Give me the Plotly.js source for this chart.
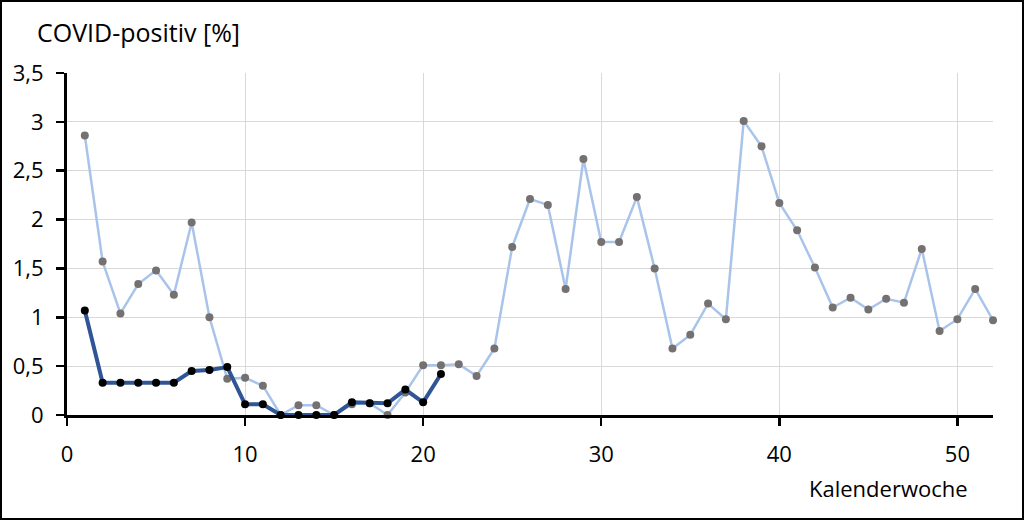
<!DOCTYPE html>
<html>
<head>
<meta charset="utf-8">
<script src="https://cdn.plot.ly/plotly-3.0.1.min.js"></script>
<style>
html,body{margin:0;padding:0;background:#fff;}
#wrap{width:1024px;height:520px;box-sizing:border-box;border:2px solid #000;overflow:hidden;}
#chart{width:1020px;height:516px;}
</style>
</head>
<body>
<div id="wrap"><div id="chart"></div></div>
<script>
const weeksAll = [1,2,3,4,5,6,7,8,9,10,11,12,13,14,15,16,17,18,19,20,21,22,23,24,25,26,27,28,29,30,31,32,33,34,35,36,37,38,39,40,41,42,43,44,45,46,47,48,49,50,51,52];
const positivAll = [2.86,1.57,1.04,1.34,1.48,1.23,1.97,1.00,0.37,0.38,0.30,0.00,0.10,0.10,0.00,0.11,0.12,0.00,0.23,0.51,0.51,0.52,0.40,0.68,1.72,2.21,2.15,1.29,2.62,1.77,1.77,2.23,1.50,0.68,0.82,1.14,0.98,3.01,2.75,2.17,1.89,1.51,1.10,1.20,1.08,1.19,1.15,1.70,0.86,0.98,1.29,0.97];
const weeksCur = [1,2,3,4,5,6,7,8,9,10,11,12,13,14,15,16,17,18,19,20,21];
const positivCur = [1.07,0.33,0.33,0.33,0.33,0.33,0.45,0.46,0.49,0.11,0.11,0.00,0.00,0.00,0.00,0.13,0.12,0.12,0.26,0.13,0.42];
const xTicks = [0,10,20,30,40,50];
const yTicks = [0,0.5,1,1.5,2,2.5,3,3.5];
const yTickText = ['0','0,5','1','1,5','2','2,5','3','3,5'];

const font = 'Open Sans, Noto Sans, sans-serif';

const traces = [
  {x: weeksAll, y: positivAll, type:'scatter', mode:'lines+markers',
   line:{color:'#a9c4ea', width:2.5}, marker:{color:'#767171', size:8}, hoverinfo:'none', cliponaxis:false},
  {x: weeksCur, y: positivCur, type:'scatter', mode:'lines+markers',
   line:{color:'#2f5597', width:4}, marker:{color:'#000000', size:8}, hoverinfo:'none', cliponaxis:false}
];

const layout = {
  width:1020, height:516,
  margin:{l:65, r:29, t:71, b:103},
  paper_bgcolor:'#fff', plot_bgcolor:'#fff',
  showlegend:false,
  font:{family:font, size:22, color:'#000'},
  xaxis:{range:[0,52], tickvals:xTicks, ticktext:xTicks.map(String),
    showgrid:true, gridcolor:'#d9d9d9', gridwidth:1,
    showline:true, linecolor:'#000', linewidth:3,
    ticks:'outside', ticklen:8, tickwidth:2.5, tickcolor:'#000',
    ticklabelstandoff:10, zeroline:false, fixedrange:true,
    tickfont:{family:font, size:22, color:'#000'}},
  yaxis:{range:[0,3.5], tickvals:yTicks, ticktext:yTickText,
    showgrid:true, gridcolor:'#d9d9d9', gridwidth:1,
    showline:true, linecolor:'#000', linewidth:3,
    ticks:'outside', ticklen:8, tickwidth:2.5, tickcolor:'#000',
    ticklabelstandoff:8, zeroline:false, fixedrange:true,
    tickfont:{family:font, size:22, color:'#000'}},
  annotations:[
    {text:'COVID-positiv [%]', xref:'paper', yref:'paper', x:-0.035, y:1.0, yshift:41,
     xanchor:'left', yanchor:'middle', showarrow:false, font:{family:font, size:25, color:'#000'}},
    {text:'Kalenderwoche', xref:'paper', yref:'paper', x:0.975, y:0, yshift:-73,
     xanchor:'right', yanchor:'middle', showarrow:false, font:{family:font, size:22, color:'#000'}}
  ]
};

Plotly.newPlot('chart', traces, layout, {displayModeBar:false, staticPlot:true});
</script>
</body>
</html>
